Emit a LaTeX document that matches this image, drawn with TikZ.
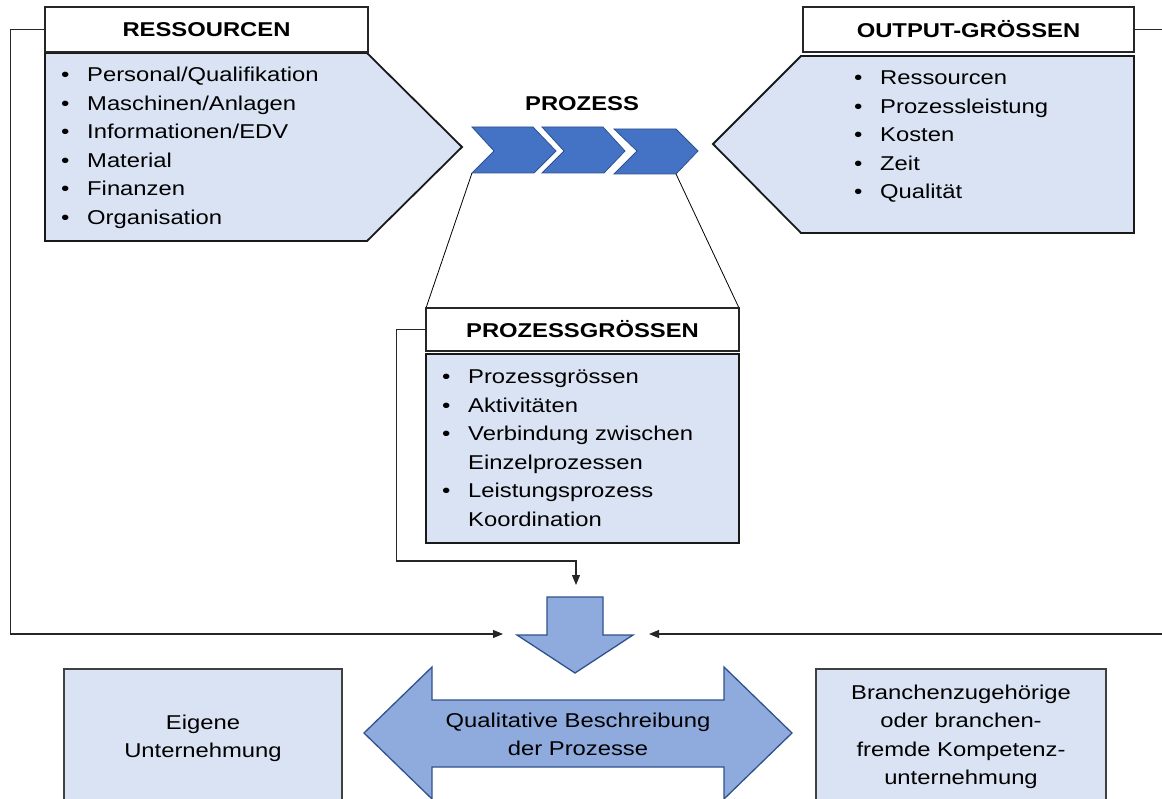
\documentclass[tikz,border=0pt]{standalone}
\usepackage{fontspec}
\setmainfont[FakeStretch=1.19]{Liberation Sans}
\usetikzlibrary{arrows.meta}

\definecolor{paleblue}{HTML}{DAE3F3}
\definecolor{arrowblue}{HTML}{8FAADC}
\definecolor{chevblue}{HTML}{4472C4}
\definecolor{edgeblue}{HTML}{2F528F}

% bullet with a fixed hanging indent
\newcommand{\bul}{\makebox[26pt][l]{•}}
\newcommand{\cont}{\hspace*{26pt}}

\begin{document}
\begin{tikzpicture}[x=1pt,y=-1pt,
  every node/.style={font=\fontsize{20}{28.5}\selectfont},
  titlebox/.style={draw=black!85, line width=1.4pt, fill=white, inner sep=0pt,
    font=\fontsize{20}{24}\selectfont\bfseries},
  panel/.style={draw=black!90, line width=1.8pt, fill=paleblue, line join=miter},
  lowbox/.style={draw=black!75, line width=1.3pt, fill=paleblue},
  listtext/.style={anchor=base west, inner sep=0pt},
  centertext/.style={anchor=base, inner sep=0pt},
  chevron/.style={fill=chevblue, draw=edgeblue, line width=0.8pt},
  blockarrow/.style={fill=arrowblue, draw=edgeblue, line width=1.3pt, line join=miter},
  link/.style={draw=black!85, line width=1.1pt, -{Triangle[length=10pt,width=8pt]}},
  plainlink/.style={draw=black!85, line width=1.1pt},
  thinlink/.style={draw=black, line width=0.8pt}]

\useasboundingbox (0,0) rectangle (1162,799);
\clip (0,0) rectangle (1162,799);

% ---------- connector end points ----------
\coordinate (inL) at (503,634);
\coordinate (inR) at (649,634);
\coordinate (inT) at (576,585);
\coordinate (turnT) at (576,561);
\coordinate (edgeR) at (1163,29.5);
\coordinate (edgeRB) at (1163,634);
\coordinate (c1bl) at (472,173);
\coordinate (c3br) at (676,174);

% ---------- Ressourcen ----------
\draw[panel] (45,53) -- (367,53) -- (462,147) -- (367,241) -- (45,241) -- cycle;
\node[titlebox, minimum width=323pt, minimum height=45pt] (res) at (206.5,29.5) {RESSOURCEN};
\node[listtext] (reslist) at (61,82) {\begin{tabular}[t]{@{}l@{}}
\bul Personal/Qualifikation\\
\bul Maschinen/Anlagen\\
\bul Informationen/EDV\\
\bul Material\\
\bul Finanzen\\
\bul Organisation
\end{tabular}};

% ---------- Output-Grössen ----------
\draw[panel] (1134,56) -- (801,56) -- (713,144) -- (801,233) -- (1134,233) -- cycle;
\node[titlebox, minimum width=331pt, minimum height=45pt] (out) at (968.5,29.5) {OUTPUT-GRÖSSEN};
\node[listtext] (outlist) at (854,85) {\begin{tabular}[t]{@{}l@{}}
\bul Ressourcen\\
\bul Prozessleistung\\
\bul Kosten\\
\bul Zeit\\
\bul Qualität
\end{tabular}};

% ---------- Prozess chevrons ----------
\node[inner sep=0pt, font=\fontsize{20}{24}\selectfont\bfseries] (proz) at (582,104) {PROZESS};
\draw[thinlink] (c1bl) -- (426,308);
\draw[thinlink] (c3br) -- (739,308);
\draw[chevron] (472,127) -- (533,127) -- (556,151) -- (534,173) -- (472,173) -- (494,151) -- cycle;
\draw[chevron] (542,127) -- (603,127) -- (625,151) -- (604,173) -- (542,173) -- (564,151) -- cycle;
\draw[chevron] (614,129) -- (676,129) -- (698,151) -- (676,174) -- (614,174) -- (637,151) -- cycle;

% ---------- Prozessgrössen ----------
\draw[panel] (426,354) rectangle (739,543);
\node[titlebox, minimum width=313pt, minimum height=43pt] (pg) at (582.5,329.5) {PROZESSGRÖSSEN};
\node[listtext] (pglist) at (442,384) {\begin{tabular}[t]{@{}l@{}}
\bul Prozessgrössen\\
\bul Aktivitäten\\
\bul Verbindung zwischen\\
\cont Einzelprozessen\\
\bul Leistungsprozess\\
\cont Koordination
\end{tabular}};

% ---------- connectors ----------
\draw[link] (res.west) -- ++(-34,0) |- (inL);
\draw[plainlink] (out.east) -- (edgeR);
\draw[link] (edgeRB) -- (inR);
\draw[link] (pg.west) -- ++(-29,0) |- (turnT) -- (inT);

% ---------- block arrows ----------
\draw[blockarrow] (547,597) -- (603,597) -- (603,635) -- (633,635) -- (575,673)
  -- (517,635) -- (547,635) -- cycle;
\draw[blockarrow] (364,733) -- (432,667) -- (432,700) -- (724,700) -- (724,667)
  -- (792,733) -- (724,799) -- (724,767) -- (432,767) -- (432,799) -- cycle;
\node[centertext] (qual) at (578,727) {\begin{tabular}[t]{@{}c@{}}
Qualitative Beschreibung\\ der Prozesse\end{tabular}};

% ---------- bottom boxes ----------
\draw[lowbox] (64,669) rectangle (342,815);
\node[centertext] (own) at (203,729) {\begin{tabular}[t]{@{}c@{}}
Eigene\\ Unternehmung\end{tabular}};
\draw[lowbox] (816,669) rectangle (1106,815);
\node[centertext] (comp) at (961,699) {\begin{tabular}[t]{@{}c@{}}
Branchenzugehörige\\ oder branchen-\\ fremde Kompetenz-\\ unternehmung\end{tabular}};

\end{tikzpicture}
\end{document}
